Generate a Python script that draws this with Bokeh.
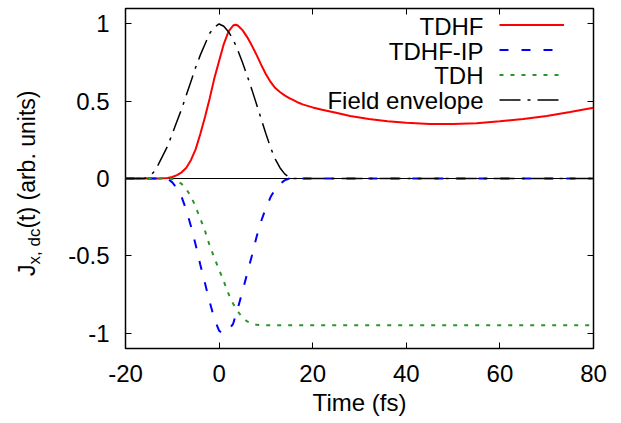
from bokeh.plotting import figure
from bokeh.layouts import row
from bokeh.models import (Range1d, LinearAxis, FixedTicker, Span, Label, Legend, LegendItem,
                          Div)
from bokeh.embed import file_html
from bokeh.resources import INLINE

# ---------------- data ----------------
x_ticks = [-20, 0, 20, 40, 60, 80]
x_tick_labels = ["-20", "0", "20", "40", "60", "80"]
y_ticks = [-1, -0.5, 0, 0.5, 1]
y_tick_labels = ["-1", "-0.5", "0", "0.5", "1"]

series_names = ["TDHF", "TDHF-IP", "TDH", "Field envelope"]
x_title = "Time (fs)"
y_title_parts = ["J", "x, dc", "(t) (arb. units)"]

tdhf_t = [-20, -13, -11, -10, -9, -8, -7, -6, -5, -4, -3, -2, -1, 0, 1, 2, 3, 3.5, 4, 5, 6,
          7, 8, 9, 10, 11, 12, 13, 14, 15, 16, 17, 18, 20, 22, 25, 28, 32, 36, 40, 45, 50,
          55, 60, 65, 70, 75, 80]
tdhf_y = [0, 0, 0.003, 0.01, 0.022, 0.04, 0.07, 0.12, 0.19, 0.29, 0.40, 0.52, 0.65, 0.76,
          0.87, 0.95, 0.99, 0.995, 0.99, 0.96, 0.915, 0.86, 0.80, 0.735, 0.675, 0.625, 0.585,
          0.56, 0.538, 0.52, 0.505, 0.49, 0.478, 0.46, 0.445, 0.425, 0.405, 0.385, 0.37, 0.36,
          0.352, 0.352, 0.358, 0.37, 0.385, 0.405, 0.43, 0.458]

ip_t = [-20, -11, -10, -9, -8, -7, -6, -5, -4, -3, -2, -1, 0, 0.7, 1.5, 2, 3, 4, 5, 6, 7, 8,
        9, 10, 11, 12, 13, 14, 15, 80]
ip_y = [0, 0, -0.025, -0.065, -0.12, -0.205, -0.31, -0.43, -0.56, -0.68, -0.80, -0.91, -0.985,
        -1.0, -0.995, -0.98, -0.94, -0.84, -0.73, -0.615, -0.5, -0.378, -0.275, -0.19, -0.12,
        -0.07, -0.035, -0.012, 0, 0]

tdh_t = [-20, -11, -10, -9, -8, -7, -6, -5, -4, -3, -2, -1, 0, 1, 2, 3, 4, 5, 6, 7, 8, 10, 80]
tdh_y = [0, 0, -0.003, -0.015, -0.035, -0.07, -0.115, -0.185, -0.26, -0.34, -0.435, -0.515,
         -0.59, -0.665, -0.745, -0.81, -0.86, -0.9, -0.925, -0.94, -0.947, -0.95, -0.95]

env_t = [-20, -16, -15, -14, -13, -12, -11, -10, -9, -8, -7, -6, -5, -4, -3, -2, -1, 0, 1, 2,
         3, 4, 5, 6, 7, 8, 9, 10, 11, 12, 13, 14, 15, 16, 80]
env_y = [0, 0, 0.012, 0.04, 0.09, 0.15, 0.21, 0.29, 0.37, 0.45, 0.54, 0.63, 0.72, 0.80, 0.87,
         0.94, 0.98, 1.0, 0.985, 0.95, 0.90, 0.83, 0.75, 0.665, 0.575, 0.48, 0.385, 0.29, 0.2,
         0.125, 0.07, 0.03, 0.008, 0, 0]

# ---------------- layout constants ----------------
FONT = "Liberation Sans"
FS = "24px"
W, H = 621, 423
LW = 50                      # width of the strip holding the rotated y title
F_LEFT, F_RIGHT, F_TOP, F_BOTTOM = 125, 593, 8, 348   # frame in page pixels

# ---------------- rotated y-axis title (HTML text, rotated with CSS) ----------------
title_html = (
    '<div style="position:absolute; left:16px; top:276px; transform-origin:0 0; '
    'transform:rotate(-90deg); white-space:nowrap; font-family:\'Liberation Sans\'; '
    'font-size:23px; line-height:23px; color:black; margin:0; padding:0;">'
    f'{y_title_parts[0]}<span style="font-size:17px; vertical-align:-5px;">'
    f'{y_title_parts[1]}</span>{y_title_parts[2]}</div>'
)
lab = Div(text=title_html, width=LW, height=H, margin=0,
          styles={"position": "relative", "margin": "0", "padding": "0"})

# ---------------- main plot ----------------
p = figure(width=W - LW, height=H, output_backend="svg", toolbar_location=None,
           x_range=Range1d(-20, 80), y_range=Range1d(-1.1, 1.1),
           min_border_left=F_LEFT - LW, min_border_right=W - F_RIGHT,
           min_border_top=F_TOP, min_border_bottom=H - F_BOTTOM, margin=0)
p.grid.visible = False
p.outline_line_color = "black"
p.outline_line_width = 1.5
p.background_fill_color = "white"
p.border_fill_color = "white"


def style_axis(ax, ticks, labels, show):
    ax.ticker = FixedTicker(ticks=ticks)
    ax.major_label_overrides = {t: l for t, l in zip(ticks, labels)}
    ax.major_tick_in = 6
    ax.major_tick_out = 0
    ax.major_tick_line_color = "black"
    ax.major_tick_line_width = 1
    ax.minor_tick_line_color = None
    ax.axis_line_color = None
    ax.major_label_text_font = FONT
    if show:
        ax.major_label_text_font_size = FS
        ax.major_label_text_color = "black"
    else:
        ax.major_label_text_font_size = "0px"
        ax.major_label_text_color = None
        ax.major_label_standoff = 0


style_axis(p.xaxis[0], x_ticks, x_tick_labels, True)
style_axis(p.yaxis[0], y_ticks, y_tick_labels, True)
p.xaxis[0].major_label_standoff = 16
p.yaxis[0].major_label_standoff = 16
p.xaxis[0].axis_label = x_title
p.xaxis[0].axis_label_text_font = FONT
p.xaxis[0].axis_label_text_font_size = FS
p.xaxis[0].axis_label_text_font_style = "normal"
p.xaxis[0].axis_label_text_color = "black"
p.xaxis[0].axis_label_standoff = 4

top_ax = LinearAxis()
style_axis(top_ax, x_ticks, x_tick_labels, False)
p.add_layout(top_ax, "above")
right_ax = LinearAxis()
style_axis(right_ax, y_ticks, y_tick_labels, False)
p.add_layout(right_ax, "right")

p.add_layout(Span(location=0, dimension="width", line_color="black", line_width=1,
                  level="underlay"))

r1 = p.line(tdhf_t, tdhf_y, line_color="#ff0000", line_width=2)
r2 = p.line(ip_t, ip_y, line_color="#0000ff", line_width=2, line_dash="9 13")
r3 = p.line(tdh_t, tdh_y, line_color="#2a962a", line_width=2, line_dash="4 7")
r4 = p.line(env_t, env_y, line_color="black", line_width=1.5, line_dash="21 7 3 7")

# legend: line samples via a Legend, texts right-aligned to their left
row_y = [26, 51, 75.3, 100]          # page y of the legend rows
sample_left = 499
legend = Legend(items=[LegendItem(label=" ", renderers=[r]) for r in [r1, r2, r3, r4]],
                location=(sample_left - F_LEFT, F_BOTTOM - (row_y[0] - 12.4) - 4 * 24.7),
                glyph_width=65, glyph_height=25, label_width=0, label_height=25,
                label_standoff=0, spacing=0, padding=0, margin=0,
                border_line_color=None, background_fill_alpha=0,
                label_text_font_size="1px", label_text_color=None)
p.add_layout(legend)

for name, yy in zip(series_names, row_y):
    p.add_layout(Label(x=483 - F_LEFT, y=F_BOTTOM - yy, x_units="screen", y_units="screen",
                       text=name, text_align="right", text_baseline="middle",
                       text_font=FONT, text_font_size=FS, text_color="black"))

layout = row(lab, p, spacing=0, margin=0)
open("out.html", "w").write(file_html(layout, INLINE))
